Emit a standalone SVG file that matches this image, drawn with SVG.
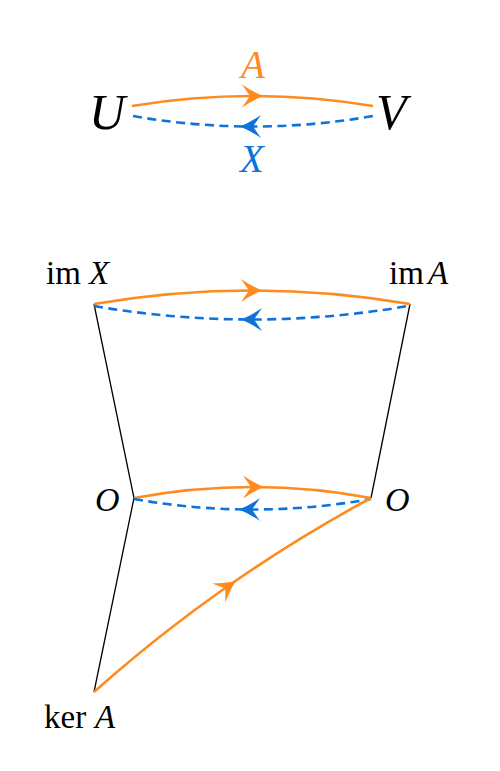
<svg xmlns="http://www.w3.org/2000/svg" width="500" height="771" viewBox="0 0 500 771">
<style>
.o{fill:none;stroke:#FF8A1E;stroke-width:2.6}
.b{fill:none;stroke:#0B73DA;stroke-width:2.6;stroke-dasharray:9 5.5}
.k{fill:none;stroke:#000;stroke-width:1.3}
.t{font-family:"Liberation Serif","DejaVu Serif",serif;fill:#000}
.i{font-style:italic}
</style>
<defs>
<path id="arr" d="M0,0 Q-10,-4 -21,-11.5 L-13,0 L-21,11.5 Q-10,4 0,0 Z"/>
</defs>
<rect width="500" height="771" fill="#fff"/>
<g id="connectors">
<path class="k" d="M94,304 L134,498 L94,692"/>
<path class="k" d="M410,304 L371,498"/>
<path class="o" d="M132,106 Q252,86 373,106"/>
<path class="b" d="M133,116 Q253,137 373,116"/>
<path class="o" d="M94,304 Q252,277 410,304"/>
<path class="b" d="M94,306 Q251,333 408,306"/>
<path class="o" d="M134,498 Q253,476 371,498"/>
<path class="b" d="M134,499 Q253,520 371,499"/>
<path class="o" d="M94,692 Q221,579 371,498"/>
<use href="#arr" fill="#FF8A1E" transform="translate(263,96)"/>
<use href="#arr" fill="#0B73DA" transform="translate(240,126.5) rotate(180)"/>
<use href="#arr" fill="#FF8A1E" transform="translate(262,290.5)"/>
<use href="#arr" fill="#0B73DA" transform="translate(241,319.5) rotate(180)"/>
<use href="#arr" fill="#FF8A1E" transform="translate(264,487)"/>
<use href="#arr" fill="#0B73DA" transform="translate(239,509.5) rotate(180)"/>
<use href="#arr" fill="#FF8A1E" transform="translate(236,581) rotate(-34.6)"/>
</g>
<g id="U"><text class="t i" x="89" y="129" font-size="50">U</text></g>
<g id="V"><text class="t i" x="376" y="129" font-size="50">V</text></g>
<g id="labelA"><text class="t i" x="253" y="78" font-size="39" text-anchor="middle" style="fill:#FF8A1E">A</text></g>
<g id="labelX"><text class="t i" x="252" y="172" font-size="39" text-anchor="middle" style="fill:#0B73DA">X</text></g>
<g id="imX"><text class="t" y="284" font-size="33"><tspan x="46">im</tspan><tspan class="i" x="89">X</tspan></text></g>
<g id="imA"><text class="t" y="284" font-size="33"><tspan x="389">im</tspan><tspan class="i" x="428">A</tspan></text></g>
<g id="O1"><text class="t i" x="95" y="511" font-size="34">O</text></g>
<g id="O2"><text class="t i" x="385" y="511" font-size="34">O</text></g>
<g id="kerA"><text class="t" y="728" font-size="33"><tspan x="44">ker</tspan><tspan class="i" x="95">A</tspan></text></g>
</svg>
